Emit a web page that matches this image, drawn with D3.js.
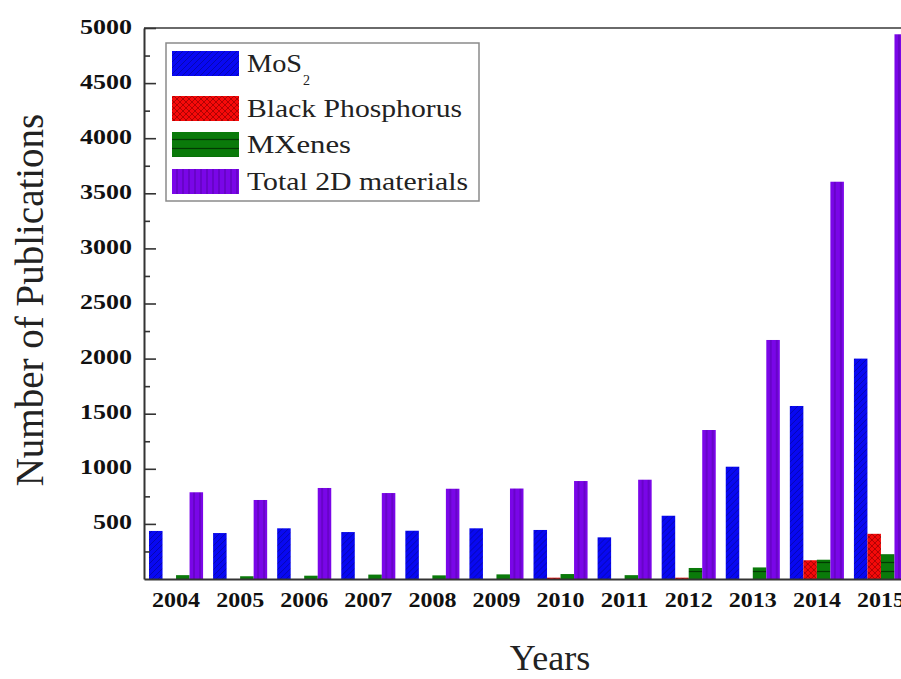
<!DOCTYPE html>
<html>
<head>
<meta charset="utf-8">
<script src="https://cdn.jsdelivr.net/npm/d3@7"></script>
<style>
  html, body { margin: 0; padding: 0; background: #fff; overflow: hidden; }
  svg { display: block; }
</style>
</head>
<body>
<svg id="chart" width="901" height="679"></svg>
<script>
// Publications per year on 2D materials
const years = ['2004','2005','2006','2007','2008','2009','2010','2011','2012','2013','2014','2015'];
const mos2 = [436, 417, 460, 426, 438, 460, 445, 378, 574, 1019, 1570, 2000];
const blackPhosphorus = [0, 0, 0, 0, 0, 0, 12, 0, 12, 0, 170, 410];
const mxenes = [35, 25, 30, 40, 33, 42, 45, 35, 100, 105, 175, 225];
const total2D = [787, 717, 826, 780, 819, 821, 889, 901, 1352, 2169, 3605, 4943];
const seriesKeys = ['mos2', 'bp', 'mxenes', 'total'];
const seriesLabels = ['MoS', 'Black Phosphorus', 'MXenes', 'Total 2D materials'];
const yMajorTicks = [500, 1000, 1500, 2000, 2500, 3000, 3500, 4000, 4500, 5000];
const yMinorTicks = [250, 750, 1250, 1750, 2250, 2750, 3250, 3750, 4250, 4750];

const seriesValues = { mos2: mos2, bp: blackPhosphorus, mxenes: mxenes, total: total2D };
const fills = { mos2: '#0808f2', bp: '#f60a0a', mxenes: '#0a7a0a', total: '#7a06e8' };
const hatchColors = { mos2: '#05058a', bp: '#8a0000', mxenes: '#023a02', total: '#4a0098' };
const serif = '"Liberation Serif", "Times New Roman", serif';

const svg = d3.select('#chart');
const plotLeft = 144, plotTop = 28, plotBottom = 579, plotRight = 913;

// patterned fills for each series
const defs = svg.append('defs');
function makePattern(key) {
  const p = defs.append('pattern').attr('id', 'pat-' + key)
    .attr('patternUnits', 'userSpaceOnUse');
  if (key === 'mos2') {
    p.attr('width', 6).attr('height', 6);
    p.append('rect').attr('width', 6).attr('height', 6).attr('fill', fills[key]);
    p.append('path').attr('d', 'M-1,7 L7,-1 M-4,4 L4,-4 M2,10 L10,2')
      .attr('stroke', hatchColors[key]).attr('stroke-width', 0.9).attr('stroke-opacity', 0.7);
  } else if (key === 'bp') {
    p.attr('width', 6).attr('height', 6);
    p.append('rect').attr('width', 6).attr('height', 6).attr('fill', fills[key]);
    p.append('path').attr('d', 'M0,0 L6,6 M6,0 L0,6')
      .attr('stroke', hatchColors[key]).attr('stroke-width', 0.9).attr('stroke-opacity', 0.75);
  } else if (key === 'mxenes') {
    p.attr('width', 8).attr('height', 9);
    p.append('rect').attr('width', 8).attr('height', 9).attr('fill', fills[key]);
    p.append('path').attr('d', 'M0,4.5 L8,4.5')
      .attr('stroke', hatchColors[key]).attr('stroke-width', 1.3);
  } else {
    p.attr('width', 6).attr('height', 8);
    p.append('rect').attr('width', 6).attr('height', 8).attr('fill', fills[key]);
    p.append('path').attr('d', 'M3,0 L3,8')
      .attr('stroke', hatchColors[key]).attr('stroke-width', 1.1).attr('stroke-opacity', 0.7);
  }
}
seriesKeys.forEach(makePattern);

const x0 = d3.scaleBand().domain(years).range([plotLeft, plotRight])
  .paddingInner(10 / 64).paddingOuter(5 / 64);
const x1 = d3.scaleBand().domain(seriesKeys).range([0, x0.bandwidth()]);
const y = d3.scaleLinear().domain([0, 5000]).range([plotBottom, plotTop]);

// bars
const groups = svg.append('g').selectAll('g').data(years).join('g')
  .attr('transform', d => `translate(${x0(d)},0)`);
groups.selectAll('rect')
  .data((yr, i) => seriesKeys.map(k => ({ key: k, value: seriesValues[k][i] })))
  .join('rect')
  .attr('x', d => x1(d.key))
  .attr('width', x1.bandwidth())
  .attr('y', d => y(d.value))
  .attr('height', d => y(0) - y(d.value))
  .attr('fill', d => `url(#pat-${d.key})`);

// top frame line
svg.append('line').attr('x1', plotLeft).attr('x2', plotRight).attr('y1', plotTop).attr('y2', plotTop)
  .attr('stroke', '#6a6a6a').attr('stroke-width', 2);

// y axis: major ticks with labels, minor ticks without
const yAxis = svg.append('g').attr('transform', `translate(${plotLeft},0)`)
  .call(d3.axisLeft(y).tickValues(yMajorTicks).tickFormat(d3.format('d'))
    .tickSize(-12).tickSizeOuter(0).tickPadding(12));
yAxis.select('.domain').attr('stroke', '#333').attr('stroke-width', 2);
yAxis.selectAll('.tick line').attr('stroke', '#333').attr('stroke-width', 1.6);
yAxis.selectAll('.tick text')
  .attr('font-family', serif)
  .attr('font-weight', 'bold').attr('font-size', 20).attr('fill', '#111')
  .attr('dy', '0.25em')
  .attr('textLength', d => String(d).length * 13)
  .attr('lengthAdjust', 'spacingAndGlyphs');
const yMinor = svg.append('g').attr('transform', `translate(${plotLeft},0)`)
  .call(d3.axisLeft(y).tickValues(yMinorTicks).tickSize(-6).tickFormat(''));
yMinor.select('.domain').remove();
yMinor.selectAll('.tick line').attr('stroke', '#333').attr('stroke-width', 1.6);

// x axis
const xAxis = svg.append('g').attr('transform', `translate(0,${plotBottom})`)
  .call(d3.axisBottom(x0).tickSize(0).tickSizeOuter(0).tickPadding(14));
xAxis.select('.domain').attr('stroke', '#333').attr('stroke-width', 2);
xAxis.selectAll('.tick text')
  .attr('font-family', serif)
  .attr('font-weight', 'bold').attr('font-size', 20).attr('fill', '#111')
  .attr('textLength', 48).attr('lengthAdjust', 'spacingAndGlyphs');

// axis titles
svg.append('text')
  .attr('transform', 'translate(43,300) rotate(-90)')
  .attr('text-anchor', 'middle')
  .attr('font-family', serif)
  .attr('font-size', 39).attr('fill', '#222')
  .text('Number of Publications');
svg.append('text')
  .attr('x', 550).attr('y', 670)
  .attr('text-anchor', 'middle')
  .attr('font-family', serif)
  .attr('font-size', 36).attr('fill', '#222')
  .text('Years');

// legend
const legend = svg.append('g');
legend.append('rect').attr('x', 166).attr('y', 43).attr('width', 313).attr('height', 158)
  .attr('fill', '#fff').attr('stroke', '#8a8a8a').attr('stroke-width', 1.5);
const swatchY = [51, 96, 132, 169];
const labelLengths = [55, 215, 104, 221];
const items = legend.selectAll('g.item').data(seriesKeys).join('g').attr('class', 'item');
items.append('rect')
  .attr('x', 172).attr('y', (d, i) => swatchY[i])
  .attr('width', 67).attr('height', 25)
  .attr('fill', d => `url(#pat-${d})`);
items.append('text')
  .attr('x', 247).attr('y', (d, i) => swatchY[i] + 21)
  .attr('font-family', serif)
  .attr('font-size', 26).attr('fill', '#222')
  .attr('textLength', (d, i) => labelLengths[i]).attr('lengthAdjust', 'spacingAndGlyphs')
  .text((d, i) => seriesLabels[i]);
legend.append('text')
  .attr('x', 303).attr('y', 85)
  .attr('font-family', serif)
  .attr('font-size', 14).attr('fill', '#222')
  .text('2');
</script>
</body>
</html>
